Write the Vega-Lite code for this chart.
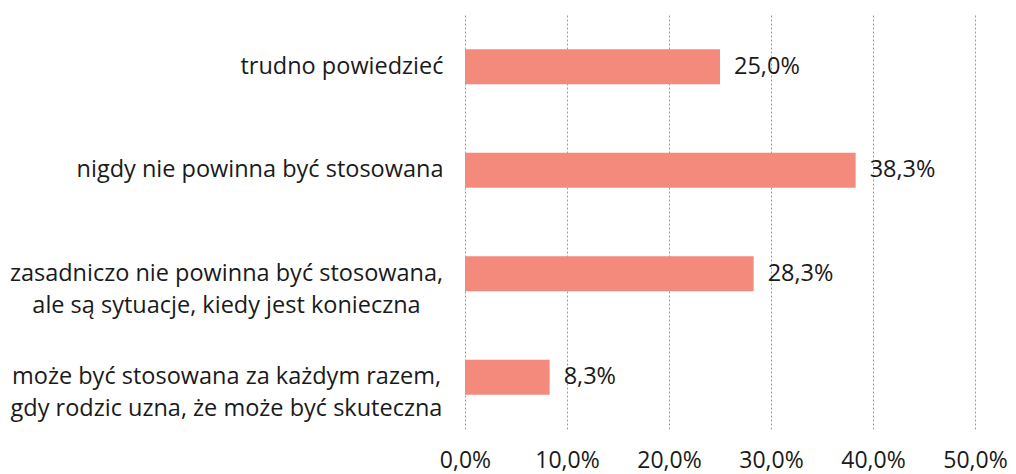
{
  "$schema": "https://vega.github.io/schema/vega-lite/v6.json",
  "autosize": "none",
  "width": 510,
  "height": 414,
  "padding": {"left": 465, "top": 15, "right": 41, "bottom": 45},
  "background": "white",
  "config": {
    "locale": {"number": {"decimal": ",", "thousands": " ", "grouping": [3], "currency": ["", " zł"]}},
    "font": "Open Sans",
    "view": {"stroke": null}
  },
  "data": {
    "values": [
      {"kat": "trudno powiedzieć", "val": 0.25, "ord": 1},
      {"kat": "nigdy nie powinna być stosowana", "val": 0.383, "ord": 2},
      {"kat": "zasadniczo nie powinna być stosowana,|ale są sytuacje, kiedy jest konieczna", "val": 0.283, "ord": 3},
      {"kat": "może być stosowana za każdym razem,|gdy rodzic uzna, że może być skuteczna", "val": 0.083, "ord": 4}
    ]
  },
  "encoding": {
    "y": {
      "field": "kat", "type": "nominal", "sort": {"field": "ord"},
      "scale": {"paddingInner": 0.66, "paddingOuter": 0.33},
      "axis": {
        "title": null, "domain": false, "ticks": false,
        "labelExpr": "split(datum.label, '|')",
        "labelFontSize": 23.5, "labelColor": "#1a1a1a",
        "labelPadding": {"condition": {"test": "indexof(datum.value, '|') > 0", "value": 239}, "value": 22},
        "labelAlign": {"condition": {"test": "indexof(datum.value, '|') > 0", "value": "center"}, "value": "right"},
        "labelLineHeight": 32, "labelLimit": 500
      }
    },
    "x": {
      "field": "val", "type": "quantitative",
      "scale": {"domain": [0, 0.5], "nice": false},
      "axis": {
        "title": null, "values": [0, 0.1, 0.2, 0.3, 0.4, 0.5], "format": ".1%",
        "domain": false, "ticks": false,
        "labelFontSize": 23, "labelColor": "#1a1a1a", "labelPadding": 20,
        "labelFlush": false,
        "grid": true, "gridColor": "#9a9a9a", "gridDash": [2, 2], "gridWidth": 1
      }
    }
  },
  "layer": [
    {"mark": {"type": "bar", "color": "#f48a7c"}},
    {
      "mark": {"type": "text", "align": "left", "baseline": "middle", "dx": 14, "fontSize": 23.5, "color": "#1a1a1a"},
      "encoding": {"text": {"field": "val", "type": "quantitative", "format": ".1%"}}
    }
  ]
}
